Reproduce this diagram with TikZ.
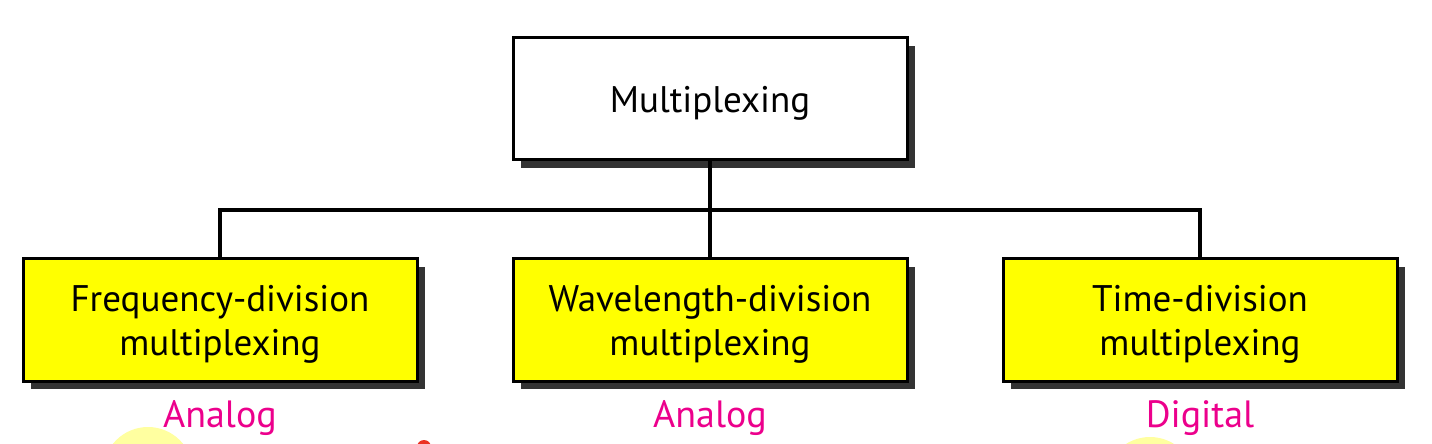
\documentclass[tikz,border=0pt]{standalone}
\usepackage{fontspec}
\setmainfont{PT Sans}
\usetikzlibrary{shadows}
\definecolor{boxyellow}{RGB}{255,255,0}
\definecolor{shadowgray}{RGB}{51,51,51}
\definecolor{labelpink}{RGB}{236,0,140}
\definecolor{paleyellow}{RGB}{255,255,160}
\definecolor{dotred}{RGB}{235,50,35}
\tikzset{
  boxbase/.style={draw=black, line width=1.5pt, minimum width=197pt, minimum height=61pt,
    inner sep=0pt,
    drop shadow={shadow xshift=3.8pt, shadow yshift=-3.8pt, fill=shadowgray, opacity=1}},
  boxtext/.style={align=center, font=\fontsize{18.5}{22}\selectfont, inner sep=0pt, yshift=-2pt},
  topbox/.style={boxbase, fill=white},
  catbox/.style={boxbase, fill=boxyellow},
  conn/.style={draw=black, line width=2pt},
  kindlabel/.style={text=labelpink, font=\fontsize{19}{22}\selectfont, inner sep=0pt}
}
\begin{document}
\begin{tikzpicture}[x=0.5pt, y=-0.5pt]
\useasboundingbox (0,0) rectangle (1432,444);
\begin{scope}
\clip (0,0) rectangle (1432,444);
\fill[paleyellow] (148,472) circle (45);
\fill[paleyellow] (1150,482) circle (45);
\fill[dotred] (424,447) circle (7);
\end{scope}
\coordinate (bus) at (710,210);
\node[topbox, label={[boxtext]center:Multiplexing}] (top) at (710,99) {};
\node[catbox, label={[boxtext]center:Frequency-division\\multiplexing}] (fdm) at (220,320) {};
\node[catbox, label={[boxtext]center:Wavelength-division\\multiplexing}] (wdm) at (710,320) {};
\node[catbox, label={[boxtext]center:Time-division\\multiplexing}] (tdm) at (1200,320) {};
\draw[conn] (top.south) -- (wdm.north);
\draw[conn] (fdm.north) |- (bus) -| (tdm.north);
\node[kindlabel] (la) at (220,418) {Analog};
\node[kindlabel] (lb) at (710,418) {Analog};
\node[kindlabel] (lc) at (1200,418) {Digital};
\end{tikzpicture}
\end{document}
